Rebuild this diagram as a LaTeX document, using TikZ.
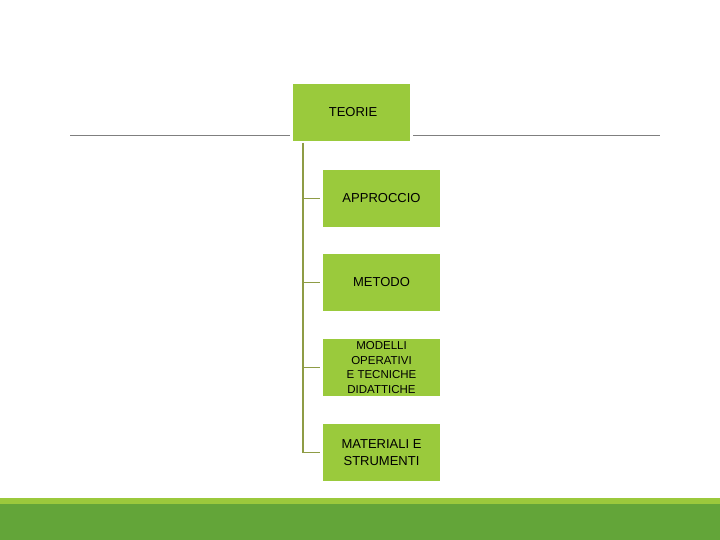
\documentclass[tikz,border=0pt]{standalone}
\usepackage{fontspec}
\setmainfont{Liberation Sans}
\usetikzlibrary{positioning, calc}
\definecolor{boxgreen}{HTML}{9ACA3C}
\definecolor{trunkolive}{HTML}{8E9C45}
\definecolor{rulegray}{HTML}{7F7F7F}
\definecolor{barlight}{HTML}{9BC93C}
\definecolor{bardark}{HTML}{63A539}
\tikzset{
  topicbox/.style={rectangle, fill=boxgreen, minimum width=117pt, minimum height=57pt,
                   inner sep=0pt, align=center, font=\fontsize{13}{17}\selectfont},
  treeline/.style={trunkolive, line width=1.6pt},
  stubline/.style={treeline, shorten >=3pt},
  ruleline/.style={rulegray, line width=1pt},
}

\begin{document}
\begin{tikzpicture}[x=1pt, y=-1pt]
  \useasboundingbox (0,0) rectangle (720,540);
  \fill[white] (0,0) rectangle (720,540);

  % footer band
  \fill[barlight] (0,498) rectangle (720,504);
  \fill[bardark] (0,504) rectangle (720,540);

  \node[topicbox] (teorie) at (351.5,112.5) {\hspace*{3pt}TEORIE};
  \node[topicbox] (approccio) at (381.5,198.5) {APPROCCIO};
  \node[topicbox] (metodo) at (381.5,282.5) {METODO};
  \node[topicbox, font=\fontsize{11.5}{14.5}\selectfont] (modelli) at (381.5,367.5)
    {MODELLI\\OPERATIVI\\E TECNICHE\\DIDATTICHE};
  \node[topicbox] (materiali) at (381.5,452.5) {MATERIALI E\\STRUMENTI};

  % horizontal rule through the top box
  \coordinate (ruleleft) at (70,136);
  \coordinate (ruleright) at (660,136);
  \draw[ruleline] (ruleleft) -- ([xshift=-3pt]teorie.west |- ruleleft);
  \draw[ruleline] ([xshift=3pt]teorie.east |- ruleright) -- (ruleright);

  % tree
  \coordinate (trunk) at (303,143);
  \draw[treeline] (trunk) |- ([xshift=-3pt]materiali.west);
  \draw[stubline] (approccio.west -| trunk) -- (approccio.west);
  \draw[stubline] (metodo.west -| trunk) -- (metodo.west);
  \draw[stubline] (modelli.west -| trunk) -- (modelli.west);
\end{tikzpicture}
\end{document}
